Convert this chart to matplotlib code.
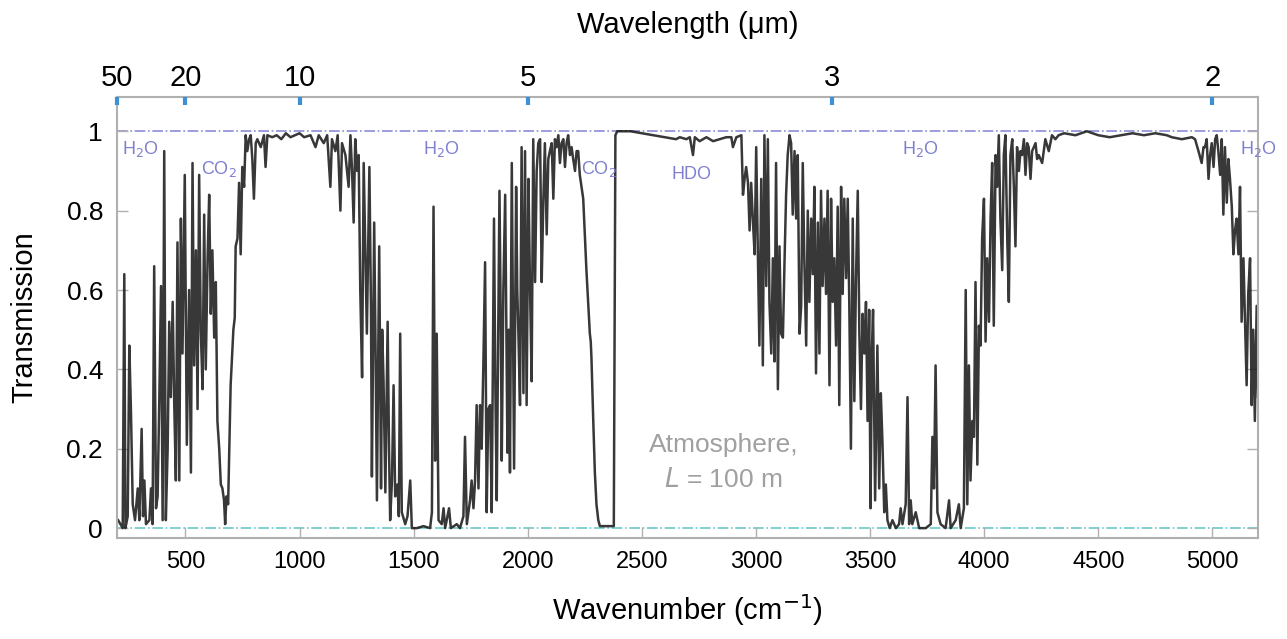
import matplotlib
matplotlib.use("Agg")
import matplotlib.pyplot as plt
import numpy as np

# atmospheric transmission, path length 100 m
wavenumber = [
    205, 225, 232, 237, 247, 254, 261, 269, 279, 291, 298, 308, 314, 320, 327, 342, 349, 356,
    363, 371, 378, 385, 393, 400, 407, 414, 422, 429, 436, 444, 451, 458, 465, 473, 480, 487,
    497, 506, 516, 524, 531, 538, 546, 553, 560, 567, 575, 582, 589, 597, 604, 611, 618, 626,
    633, 640, 648, 655, 662, 669, 674, 680, 687, 698, 710, 716, 720, 728, 735, 742, 749, 757,
    764, 771, 779, 786, 793, 800, 808, 815, 830, 844, 851, 859, 880, 900, 920, 940, 960, 980,
    1000, 1020,
    1048, 1070, 1084, 1106, 1121, 1135, 1142, 1157, 1167, 1179, 1186, 1201, 1215, 1223, 1230,
    1237, 1244, 1252, 1259, 1266, 1274, 1281, 1288, 1295, 1306, 1313, 1317, 1327, 1333, 1339,
    1349, 1357, 1362, 1368, 1376, 1386, 1392, 1397, 1405, 1412, 1419, 1429, 1435, 1441, 1448,
    1463, 1473, 1485, 1492, 1514, 1543, 1572, 1580, 1587, 1594, 1601, 1609, 1623, 1631, 1638,
    1655, 1663, 1689, 1703, 1718, 1725, 1733, 1740, 1747, 1754, 1762, 1769, 1776, 1784, 1791,
    1798, 1805, 1813, 1820, 1827, 1835,
    1842, 1852, 1858, 1864, 1876, 1882, 1886, 1893, 1901, 1911, 1917, 1922, 1930, 1940, 1949,
    1954, 1959, 1966, 1973, 1981, 1988, 1995, 2003, 2010, 2017, 2024, 2032, 2039, 2046, 2054,
    2061, 2068, 2075, 2083, 2090, 2097, 2105, 2112, 2119, 2126, 2134, 2141, 2148, 2156, 2163,
    2170, 2177, 2185, 2192, 2199, 2207, 2214, 2221, 2228, 2243, 2257, 2272, 2276, 2279, 2287,
    2294, 2301, 2309, 2316, 2377, 2384, 2392, 2450, 2500, 2550, 2600, 2650,
    2666, 2695, 2710, 2724, 2732, 2753, 2783, 2812, 2841, 2870, 2892, 2899, 2914, 2936, 2943,
    2950, 2957, 2965, 2972, 2979, 2986, 2994, 3001, 3008, 3015, 3023, 3030, 3037, 3045, 3052,
    3059, 3067, 3074, 3081, 3088, 3096, 3103, 3110, 3118, 3125, 3132, 3139, 3147, 3154, 3161,
    3169, 3176, 3183, 3191, 3198, 3205, 3212, 3220, 3227, 3234, 3242, 3249, 3256, 3263, 3271,
    3278, 3285, 3292, 3300, 3307, 3314, 3322, 3329, 3336, 3343, 3351, 3358, 3365, 3373, 3380,
    3387, 3395, 3402, 3409, 3416, 3424, 3431, 3438, 3446, 3453, 3460, 3467, 3475, 3482, 3489,
    3496, 3502, 3508, 3513, 3522, 3532, 3540, 3547, 3554, 3562, 3569, 3576, 3586, 3598, 3613,
    3627, 3634, 3642, 3656, 3664, 3671, 3678, 3685, 3700, 3715, 3744, 3766, 3773, 3780, 3787,
    3795, 3809, 3831, 3846, 3853, 3875, 3889, 3897, 3911, 3919, 3926, 3933, 3940, 3948, 3955,
    3962, 3970, 3977, 3984, 3991, 3999, 4006, 4013, 4021, 4028, 4035, 4042, 4050, 4057, 4064,
    4071, 4079, 4086, 4093, 4101, 4108, 4115, 4123, 4130, 4137, 4144, 4152, 4159, 4166, 4174,
    4181, 4188, 4195, 4203, 4210, 4225, 4232, 4239, 4254, 4268, 4283, 4297, 4312, 4326,
    4350, 4400, 4450, 4500, 4550, 4600, 4650, 4700, 4750, 4800, 4822, 4866, 4910, 4924, 4939,
    4953, 4961, 4968, 4975, 4983, 4990, 4997, 5005, 5012, 5019, 5026, 5034, 5041, 5048, 5055,
    5063, 5070, 5077, 5085, 5092, 5099, 5106, 5114, 5121, 5128, 5136, 5143, 5150, 5157, 5165,
    5172, 5179, 5186, 5194, 5200,
]
transmission = [
    0.02, 0.0, 0.64, 0.0, 0.03, 0.46, 0.3, 0.06, 0.02, 0.1, 0.02, 0.25, 0.03, 0.12, 0.01, 0.02, 0.1, 0.01,
    0.66, 0.05, 0.08, 0.31, 0.61, 0.02, 0.95, 0.02, 0.2, 0.52, 0.33, 0.57, 0.31, 0.12, 0.72, 0.12, 0.78, 0.44,
    0.89, 0.21, 0.6, 0.14, 0.92, 0.41, 0.7, 0.3, 0.89, 0.5, 0.35, 0.79, 0.4, 0.68, 0.84, 0.54, 0.7, 0.48,
    0.62, 0.27, 0.2, 0.11, 0.1, 0.07, 0.01, 0.08, 0.06, 0.36, 0.5, 0.53, 0.71, 0.73, 0.87, 0.69, 0.91, 0.86,
    0.99, 0.95, 0.98, 0.99, 0.93, 0.83, 0.97, 0.98, 0.96, 0.99, 0.91, 0.99, 0.985, 0.99, 0.98, 0.995, 0.985, 0.99,
    0.995, 0.985,
    0.99, 0.96, 0.99, 0.97, 0.99, 0.86, 0.98, 0.95, 0.99, 0.8, 0.97, 0.94, 0.86, 0.99, 0.9,
    0.77, 0.98, 0.9, 0.94, 0.6, 0.38, 0.92, 0.7, 0.49, 0.91, 0.55, 0.13, 0.77, 0.45, 0.07,
    0.71, 0.1, 0.5, 0.37, 0.09, 0.52, 0.2, 0.02, 0.12, 0.36, 0.08, 0.11, 0.03, 0.49, 0.04,
    0.01, 0.03, 0.12, 0.0, 0.0, 0.005, 0.0, 0.04, 0.81, 0.17, 0.49, 0.02, 0.01, 0.05, 0.0,
    0.05, 0.0, 0.01, 0.0, 0.03, 0.23, 0.01, 0.04, 0.07, 0.12, 0.05, 0.12, 0.31, 0.1, 0.31,
    0.2, 0.4, 0.67, 0.04, 0.3, 0.31,
    0.04, 0.78, 0.35, 0.07, 0.85, 0.5, 0.17, 0.6, 0.84, 0.19, 0.5, 0.14, 0.92, 0.15, 0.86,
    0.6, 0.49, 0.31, 0.96, 0.34, 0.95, 0.31, 0.88, 0.6, 0.37, 0.98, 0.62, 0.9, 0.97, 0.98,
    0.62, 0.82, 0.97, 0.74, 0.93, 0.95, 0.97, 0.83, 0.98, 0.96, 0.99, 0.92, 0.97, 0.98, 0.91,
    0.97, 0.99, 0.94, 0.96, 0.93, 0.9, 0.95, 0.95, 0.89, 0.83, 0.65, 0.49, 0.47, 0.43, 0.27,
    0.14, 0.06, 0.02, 0.005, 0.005, 0.99, 1.0, 1.0, 0.995, 0.99, 0.985, 0.98,
    0.985, 0.98, 0.985, 0.94, 0.985, 0.975, 0.985, 0.975, 0.98, 0.985, 0.985, 0.96, 0.985, 0.99, 0.84,
    0.88, 0.91, 0.87, 0.75, 0.87, 0.78, 0.69, 0.96, 0.7, 0.46, 0.88, 0.41, 0.99, 0.61, 0.98,
    0.57, 0.44, 0.68, 0.42, 0.92, 0.35, 0.71, 0.49, 0.48, 0.67, 0.84, 0.94, 0.99, 0.97, 0.79,
    0.95, 0.78, 0.94, 0.49, 0.56, 0.92, 0.67, 0.46, 0.8, 0.57, 0.78, 0.64, 0.86, 0.39, 0.77,
    0.44, 0.85, 0.61, 0.78, 0.59, 0.85, 0.36, 0.83, 0.57, 0.68, 0.46, 0.81, 0.31, 0.86, 0.59,
    0.83, 0.63, 0.83, 0.56, 0.2, 0.78, 0.32, 0.62, 0.85, 0.49, 0.3, 0.54, 0.44, 0.57, 0.27,
    0.55, 0.05, 0.45, 0.55, 0.07, 0.46, 0.1, 0.34, 0.22, 0.04, 0.11, 0.02, 0.0, 0.02, 0.0,
    0.01, 0.05, 0.01, 0.06, 0.33, 0.01, 0.07, 0.01, 0.04, 0.0, 0.0, 0.01, 0.23, 0.1, 0.41,
    0.04, 0.01, 0.0, 0.07, 0.0, 0.02, 0.06, 0.0, 0.05, 0.6, 0.06, 0.41, 0.12, 0.27, 0.23,
    0.62, 0.16, 0.51, 0.46, 0.73, 0.83, 0.47, 0.68, 0.52, 0.78, 0.92, 0.51, 0.94, 0.86, 0.99,
    0.78, 0.65, 0.94, 0.99, 0.73, 0.57, 0.94, 0.98, 0.86, 0.71, 0.96, 0.9, 0.95, 0.94, 0.98,
    0.89, 0.97, 0.96, 0.88, 0.95, 0.97, 0.93, 0.94, 0.92, 0.98, 0.95, 0.99, 0.98, 0.99,
    0.995, 0.99, 1.0, 0.99, 0.985, 0.99, 0.995, 0.99, 0.995, 0.99, 0.985, 0.98, 0.985, 0.98, 0.95,
    0.92, 0.96, 0.96, 0.98, 0.88, 0.94, 0.97, 0.91, 0.98, 0.99, 0.95, 0.89, 0.98, 0.79, 0.96,
    0.82, 0.93, 0.88, 0.81, 0.69, 0.75, 0.78, 0.69, 0.86, 0.52, 0.68, 0.52, 0.36, 0.59, 0.68,
    0.31, 0.5, 0.27, 0.56, 0.33,
]

# band labels: (text, wavenumber, transmission)
band_labels = ["H$_2$O", "CO$_2$", "H$_2$O", "CO$_2$", "HDO", "H$_2$O", "H$_2$O"]
band_x = [222, 566, 1542, 2233, 2630, 3640, 5122]
band_y = [0.955, 0.905, 0.955, 0.905, 0.89, 0.955, 0.955]

wavelength_ticks = [50, 20, 10, 5, 3, 2]  # micrometres

plt.rcParams["font.family"] = ["Liberation Sans", "DejaVu Sans"]

grey = "#b0b0b0"
label_blue = "#7f80d0"

fig = plt.figure(figsize=(12.87, 6.39), dpi=100)
ax = fig.add_axes([0.0909, 0.158, 0.8866, 0.690])

ax.axhline(1, color="#8c8cd8", lw=1.2, ls="-.", zorder=1)
ax.axhline(0, color="#6cc8c8", lw=1.2, ls="-.", zorder=1)
ax.plot(wavenumber, transmission, color="#151515", lw=1.8, alpha=0.85, zorder=2)

for txt, x, y in zip(band_labels, band_x, band_y):
    ax.text(x, y, txt, color=label_blue, fontsize=13, va="center", ha="left")

ax.text(2858, 0.21, "Atmosphere,", color="#a0a0a0", fontsize=19, ha="center", va="center")
ax.text(2858, 0.12, "$L$ = 100 m", color="#a0a0a0", fontsize=19, ha="center", va="center")

ax.set_xlim(200, 5200)
ax.set_ylim(-0.025, 1.086)
ax.set_xticks(np.arange(500, 5001, 500))
ax.set_yticks([0, 0.2, 0.4, 0.6, 0.8, 1.0])
ax.set_yticklabels(["0", "0.2", "0.4", "0.6", "0.8", "1"])
ax.tick_params(axis="both", direction="in", length=8, width=1, color=grey,
               top=True, right=True, pad=10)
ax.tick_params(axis="x", labelsize=17, pad=9)
ax.tick_params(axis="y", labelsize=19)
for sp in ax.spines.values():
    sp.set_color(grey)
    sp.set_linewidth(1.5)

ax.set_xlabel("Wavenumber (cm$^{-1}$)", fontsize=21, labelpad=14)
ax.set_ylabel("Transmission", fontsize=21, labelpad=20)

# wavelength scale on top
ax2 = ax.twiny()
ax2.set_xlim(ax.get_xlim())
ax2.set_xticks([1e4 / w for w in wavelength_ticks])
ax2.set_xticklabels([str(w) for w in wavelength_ticks])
ax2.tick_params(axis="x", direction="in", length=6, width=3, color="#3d8fd8",
                labelsize=21, pad=4)
for sp in ax2.spines.values():
    sp.set_visible(False)
ax2.set_xlabel("Wavelength (\u03bcm)", fontsize=21, labelpad=22)

fig.savefig("out.png", dpi=100)
